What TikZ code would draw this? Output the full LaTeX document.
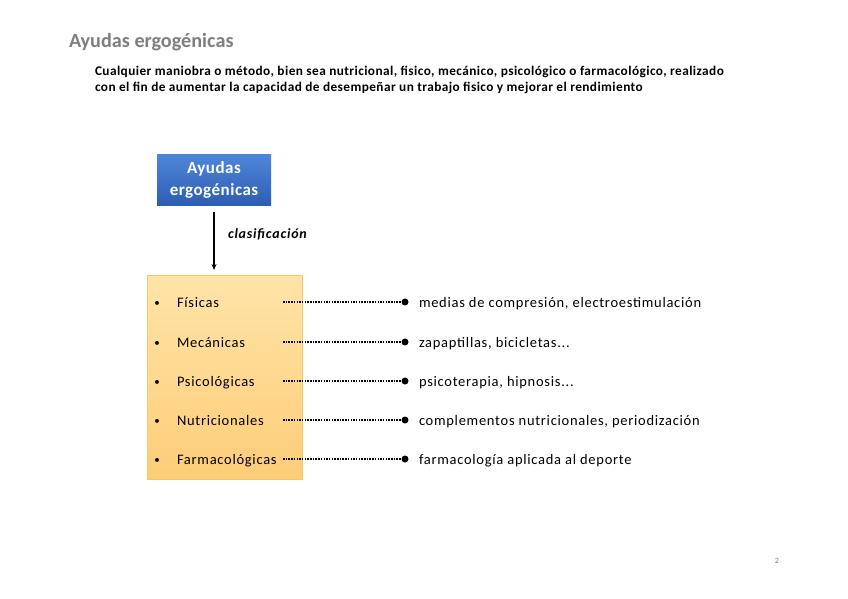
\documentclass[tikz,border=0pt]{standalone}
\usepackage{fontspec}
\setmainfont{Carlito}
\usetikzlibrary{arrows.meta}
\begin{document}
\begin{tikzpicture}[x=1pt,y=-1pt,
  every node/.style={inner sep=0pt,outer sep=0pt},
  cat/.style={anchor=base west,font=\fontsize{14.5}{16}\selectfont\addfontfeature{LetterSpace=5}},
  desc/.style={anchor=base west,font=\fontsize{14.5}{16}\selectfont\addfontfeature{LetterSpace=5}},
  bul/.style={anchor=base,font=\fontsize{11}{16}\selectfont},
  conn/.style={line width=2.4pt,dash pattern=on 1.5pt off 1.2pt},
  enddot/.style={circle,fill=black,minimum size=7pt,inner sep=0pt}]
\definecolor{titlegray}{HTML}{7F7F7F}
\definecolor{bluetop}{HTML}{4F86D8}
\definecolor{bluebot}{HTML}{2E5EB4}
\definecolor{orangetop}{HTML}{FFE4A8}
\definecolor{orangebot}{HTML}{FDCD78}
\definecolor{orangeline}{HTML}{F8C765}
\useasboundingbox (0,0) rectangle (848,599);
\fill[white] (0,0) rectangle (848,599);
\node[anchor=west,text=titlegray,font=\fontsize{20.2}{22}\selectfont\bfseries] (title) at (69,42) {Ayudas ergogénicas};
\node[anchor=north west,align=left,font=\fontsize{13.3}{16}\selectfont\bfseries\addfontfeature{LetterSpace=3.2}] (intro) at (95,66) {Cualquier maniobra o método, bien sea nutricional, fisico, mecánico, psicológico o farmacológico, realizado\\con el fin de aumentar la capacidad de desempeñar un trabajo fisico y mejorar el rendimiento};
\shade[top color=bluetop,bottom color=bluebot] (157,154) rectangle (271,205);
\node[align=center,text=white,font=\fontsize{17}{22}\selectfont\bfseries\addfontfeature{LetterSpace=3}] (ayudas) at (214,180) {Ayudas\\ergogénicas};
\shade[top color=orangetop,bottom color=orangebot,draw=orangeline,line width=0.8pt] (147,275) rectangle (302,479);
\coordinate (arrstart) at (214,212);
\coordinate (arrend) at (214,270);
\draw[line width=1.4pt,-{Stealth[length=6pt,width=5pt]}] (arrstart) -- (arrend);
\node[anchor=west,font=\fontsize{14}{16}\selectfont\bfseries\itshape\addfontfeature{LetterSpace=5.5}] (clas) at (228,234) {clasificación};
\foreach \y/\c/\d/\n in {302/Físicas/{medias de compresión, electroestimulación}/a,
  342/Mecánicas/{zapaptillas, bicicletas...}/b,
  381/Psicológicas/{psicoterapia, hipnosis...}/c,
  420/Nutricionales/{complementos nutricionales, periodización}/d,
  459/Farmacológicas/{farmacología aplicada al deporte}/e}{
  \node[bul] (bul\n) at (157,\y+4) {•};
  \node[cat] (cat\n) at (177,\y+5) {\c};
  \coordinate (s\n) at (283,\y);
  \node[enddot] (dot\n) at (405,\y) {};
  \node[desc] (desc\n) at (419,\y+5) {\d};
  \draw[conn] (s\n) -- (dot\n.center);
}
\node[text=titlegray,font=\fontsize{8}{10}\selectfont] (page) at (777,561) {2};
\end{tikzpicture}
\end{document}
